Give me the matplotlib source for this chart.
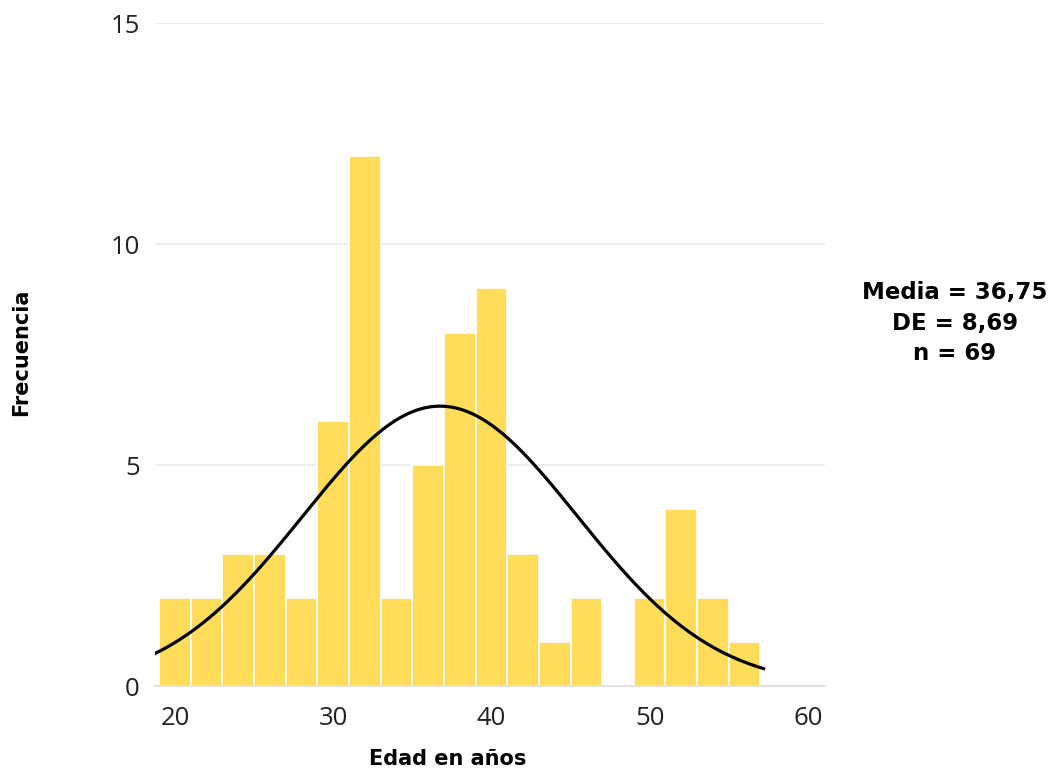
import matplotlib
matplotlib.use("Agg")
import matplotlib.pyplot as plt
import numpy as np

# age histogram, 2-year bins starting at 19
bin_start = [19, 21, 23, 25, 27, 29, 31, 33, 35, 37, 39, 41, 43, 45, 47, 49, 51, 53, 55]
frecuencia = [2, 2, 3, 3, 2, 6, 12, 2, 5, 8, 9, 3, 1, 2, 0, 2, 4, 2, 1]
bin_width = 2

media = 36.75
de = 8.69
n = 69

plt.rcParams['font.family'] = ['Open Sans', 'DejaVu Sans']

fig = plt.figure(figsize=(10.54, 7.71), dpi=100)
ax = fig.add_axes([0.147, 0.110, 0.636, 0.860])

ax.bar(bin_start, frecuencia, width=bin_width, align='edge',
       color='#FFDC5A', edgecolor='white', linewidth=1.2, zorder=2)

# normal curve scaled to counts
x = np.linspace(18.7, 57.2, 300)
y = n * bin_width / (de * np.sqrt(2 * np.pi)) * np.exp(-0.5 * ((x - media) / de) ** 2)
ax.plot(x, y, color='black', linewidth=2.3, zorder=3)

ax.set_xlim(18.73, 61.1)
ax.set_ylim(0, 15)
ax.set_xticks([20, 30, 40, 50, 60])
ax.set_yticks([0, 5, 10, 15])
ax.grid(axis='y', color='#EBEBEB', linewidth=1.2, zorder=0)
ax.set_axisbelow(True)
for s in ['top', 'right', 'left']:
    ax.spines[s].set_visible(False)
ax.spines['bottom'].set_color('#DDDDDD')
ax.spines['bottom'].set_linewidth(1.2)
ax.tick_params(axis='both', length=0, labelsize=18.5, colors='#222222')
ax.tick_params(axis='x', pad=14.5)
ax.tick_params(axis='y', pad=11)

bold = ['DejaVu Sans']
fig.text(0.425, 0.015, 'Edad en años', ha='center', va='center',
         fontsize=15, fontweight='bold', family=bold)
fig.text(0.02, 0.543, 'Frecuencia', ha='center', va='center', rotation=90,
         fontsize=15, fontweight='bold', family=bold)

stats = f'Media = {media:.2f}\nDE = {de:.2f}\nn = {n}'.replace('.', ',')
fig.text(0.906, 0.581, stats, ha='center', va='center', fontsize=16.5,
         fontweight='bold', linespacing=1.42, family=bold)

fig.savefig('out.png', dpi=100)
